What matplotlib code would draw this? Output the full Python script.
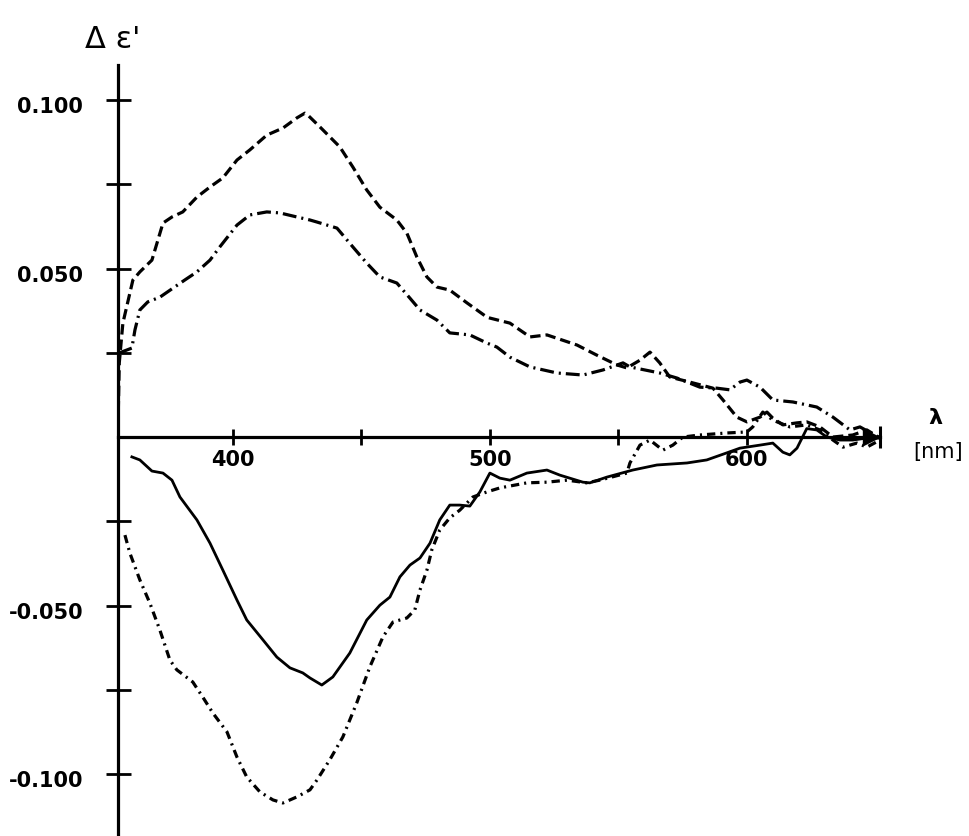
import numpy as np
import matplotlib
matplotlib.use('Agg')
import matplotlib.pyplot as plt
import matplotlib.transforms as mtransforms

# wavelength [nm] / delta epsilon'
dash_x = [355.3, 355.8, 357.2, 361.1, 363.8, 368.5, 372.8, 376.3, 380.5, 386.0, 391.1, 396.1,
          401.6, 406.6, 413.2, 419.5, 424.9, 428.0, 429.2, 433.9, 441.6, 446.7, 452.1, 457.2,
          463.8, 467.7, 471.6, 475.5, 479.4, 484.4, 491.1, 498.8, 500.0, 507.8, 515.6, 522.2,
          533.9, 541.6, 549.4, 553.3, 558.4, 562.3, 566.1, 570.0, 577.8, 586.8, 590.7, 596.1,
          600.0, 605.1, 607.8, 610.1, 614.0, 619.5, 623.3, 628.4, 633.5, 641.2, 646.7, 651.8]
dash_y = [0.003, 0.022, 0.0338, 0.0466, 0.0490, 0.0525, 0.0635, 0.0653, 0.0668, 0.0712, 0.0742, 0.0769,
          0.0822, 0.0852, 0.0896, 0.0917, 0.0947, 0.0961, 0.0955, 0.0920, 0.0861, 0.0801, 0.0733, 0.0682,
          0.0644, 0.0605, 0.0534, 0.0475, 0.0445, 0.0436, 0.0398, 0.0356, 0.0353, 0.0338, 0.0297, 0.0303,
          0.0273, 0.0243, 0.0214, 0.0205, 0.0228, 0.0252, 0.0220, 0.0178, 0.0163, 0.0145, 0.0110, 0.0059,
          0.0045, 0.0059, 0.0074, 0.0056, 0.0036, 0.0042, 0.0045, 0.0030, 0.0, 0.0006, 0.0021, -0.0003]

dd_x = [355.6, 360.7, 361.9, 363.8, 366.9, 371.6, 381.3, 386.0, 391.1, 394.9, 401.6, 406.6,
        413.2, 418.3, 424.9, 430.0, 432.7, 440.5, 446.7, 452.1, 457.2, 463.8, 468.9, 472.8,
        479.4, 484.4, 492.2, 498.8, 502.7, 507.8, 515.6, 526.1, 536.2, 544.0, 551.8, 554.5,
        566.1, 572.8, 581.7, 588.3, 593.4, 597.3, 600.0, 605.1, 610.1, 617.9, 627.2, 633.5,
        640.1, 644.0, 651.8]
dd_y = [0.0249, 0.0264, 0.0318, 0.0377, 0.0401, 0.0415, 0.0466, 0.0490, 0.0525, 0.0564, 0.0629, 0.0659,
        0.0668, 0.0665, 0.0653, 0.0644, 0.0638, 0.0620, 0.0564, 0.0516, 0.0475, 0.0457, 0.0412, 0.0377,
        0.0347, 0.0309, 0.0303, 0.0279, 0.0267, 0.0237, 0.0208, 0.0190, 0.0184, 0.0199, 0.0220, 0.0208,
        0.0190, 0.0175, 0.0148, 0.0145, 0.0140, 0.0163, 0.0169, 0.0148, 0.0110, 0.0104, 0.0089, 0.0059,
        0.0021, 0.0030, -0.0003]

solid_x = [360.7, 363.8, 368.5, 372.8, 376.3, 379.4, 386.0, 391.1, 396.1, 401.6, 405.4, 411.7,
           417.1, 422.2, 427.2, 430.0, 434.6, 438.9, 445.5, 452.1, 457.2, 461.1, 465.0, 468.9,
           472.8, 476.7, 480.5, 484.4, 488.3, 492.2, 496.1, 500.0, 503.9, 507.8, 514.4, 522.2,
           527.2, 536.2, 538.9, 545.5, 555.6, 565.0, 576.7, 584.4, 592.2, 597.3, 605.1, 610.1,
           614.0, 616.7, 619.5, 623.3, 627.2, 631.1, 636.2, 641.2, 646.7, 651.8]
solid_y = [-0.0059, -0.0068, -0.0101, -0.0107, -0.0128, -0.0178, -0.0246, -0.0315, -0.0395, -0.0484, -0.0543, -0.0602,
           -0.0653, -0.0685, -0.0700, -0.0715, -0.0736, -0.0712, -0.0641, -0.0543, -0.0499, -0.0475, -0.0415, -0.0380,
           -0.0359, -0.0315, -0.0246, -0.0202, -0.0202, -0.0205, -0.0163, -0.0107, -0.0122, -0.0128, -0.0107, -0.0098,
           -0.0113, -0.0134, -0.0136, -0.0119, -0.0098, -0.0083, -0.0077, -0.0068, -0.0047, -0.0033, -0.0024, -0.0018,
           -0.0045, -0.0053, -0.0033, 0.0025, 0.0021, 0.0, -0.0009, -0.0009, -0.0003, -0.0003]

low_x = [358.0, 359.9, 363.8, 367.7, 371.6, 375.5, 378.2, 384.4, 388.3, 392.2, 397.7, 401.6,
         405.4, 410.5, 415.6, 419.5, 424.9, 430.0, 432.7, 437.7, 442.8, 448.2, 453.3, 458.4,
         462.3, 467.7, 470.8, 472.8, 475.5, 477.4, 480.5, 484.4, 488.3, 493.4, 498.8, 503.9,
         514.4, 522.2, 530.0, 537.7, 542.8, 553.3, 554.5, 558.4, 562.3, 567.3, 571.2, 575.1,
         581.7, 592.2, 600.0, 602.3, 606.2, 610.1, 616.7, 623.3, 628.4, 633.5, 637.4, 642.8,
         646.7, 651.8]
low_y = [-0.0291, -0.0344, -0.0424, -0.0493, -0.0573, -0.0662, -0.0691, -0.0727, -0.0772, -0.0819, -0.0875, -0.0950,
         -0.1009, -0.1053, -0.1077, -0.1086, -0.1068, -0.1047, -0.1018, -0.0958, -0.0890, -0.0789, -0.0682, -0.0593,
         -0.0549, -0.0537, -0.0513, -0.0454, -0.0395, -0.0335, -0.0276, -0.0240, -0.0217, -0.0178, -0.0163, -0.0151,
         -0.0136, -0.0134, -0.0128, -0.0136, -0.0128, -0.0107, -0.0077, -0.0024, -0.0009, -0.0039, -0.0024, 0.0,
         0.0006, 0.0012, 0.0015, 0.0030, 0.0074, 0.0050, 0.0030, 0.0036, 0.0021, -0.0009, -0.0030, -0.0018,
         -0.0030, -0.0009]

xmajor = [400, 500, 600]
xminor = [450, 550]
ymajor = [-0.1, -0.05, 0.05, 0.1]
ymajor_labels = ['-0.100', '-0.050', '0.050', '0.100']
yminor = [-0.075, -0.025, 0.025, 0.075]

plt.rcParams['font.family'] = ['DejaVu Sans']
plt.rcParams['lines.scale_dashes'] = False

fig = plt.figure(figsize=(9.69, 8.36), dpi=100)
ax = fig.add_axes([118 / 969, 0.0, (880 - 118) / 969, 1 - 65 / 836])

ax.plot(dash_x, dash_y, color='black', lw=2.3, dashes=(7.5, 3.6))
ax.plot(dd_x, dd_y, color='black', lw=2.3, dashes=(10, 3.6, 1.5, 3.6))
ax.plot(solid_x, solid_y, color='black', lw=2.0)
ax.plot(low_x, low_y, color='black', lw=2.3, dashes=(6, 3.6, 1.5, 3.6))

ax.set_xlim(355.3, 651.8)
ax.set_ylim(-0.1184, 0.1104)

for s in ['top', 'right']:
    ax.spines[s].set_visible(False)
ax.spines['bottom'].set_position(('data', 0))
ax.spines['left'].set_linewidth(2.3)
ax.spines['bottom'].set_linewidth(2.3)

ax.set_xticks(xmajor)
ax.set_xticklabels([str(v) for v in xmajor])
ax.set_xticks(xminor, minor=True)
ax.set_yticks(ymajor)
ax.set_yticklabels(ymajor_labels)
ax.set_yticks(yminor, minor=True)

ax.tick_params(axis='x', which='both', direction='inout', length=11, width=2, labelsize=15, pad=4)
ax.tick_params(axis='y', which='both', direction='inout', length=18, width=2, labelsize=15, pad=16)
for lab in ax.get_xticklabels() + ax.get_yticklabels():
    lab.set_fontweight('bold')

# y labels sit a bit below their ticks in the original
off = mtransforms.ScaledTranslation(0, -0.05, fig.dpi_scale_trans)
for lab in ax.get_yticklabels():
    lab.set_transform(lab.get_transform() + off)

# arrow head with bar at the end of the wavelength axis
tr = ax.get_yaxis_transform()
ax.plot([0.988], [0], marker='>', markersize=11, color='black', transform=tr, clip_on=False)
ax.plot([1.0], [0], marker='|', markersize=16, markeredgewidth=2.2, color='black', transform=tr, clip_on=False)

fig.text(113 / 969, 1 - 40 / 836, "Δ ε'", fontsize=22, ha='center', va='center')
fig.text(935 / 969, 1 - 418 / 836, 'λ', fontsize=16, fontweight='bold', ha='center', va='center')
fig.text(938 / 969, 1 - 452 / 836, '[nm]', fontsize=15, ha='center', va='center')

fig.savefig('out.png', dpi=100)
